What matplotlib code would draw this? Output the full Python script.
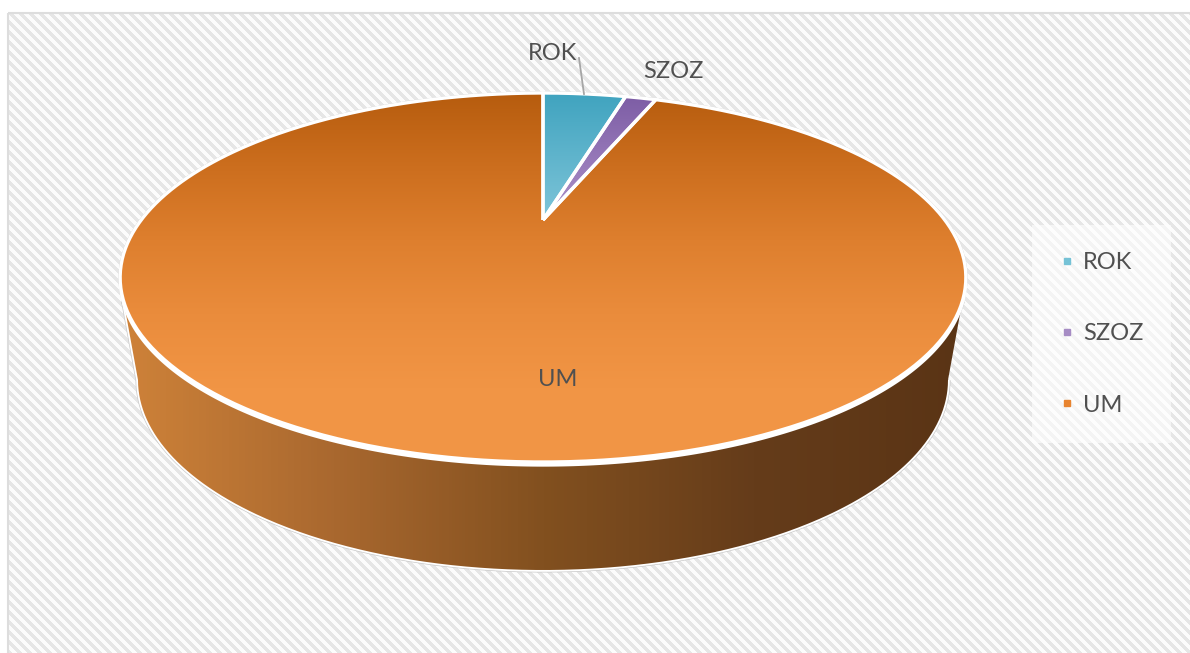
"""3D pie: UM / ROK / SZOZ shares, drawn in pixel coordinates of the reference."""
import numpy as np, matplotlib; matplotlib.use("Agg")
import matplotlib.pyplot as plt
from matplotlib.colors import LinearSegmentedColormap as LSC
from matplotlib.lines import Line2D
from matplotlib.patches import PathPatch, Rectangle
from matplotlib.path import Path

plt.rcParams.update({"font.family": ["Lato", "DejaVu Sans"], "font.size": 17})

categories = ["ROK", "SZOZ", "UM"]
values = [4.3, 1.6, 94.1]
legend_colors = ["#75C2D6", "#A68CC4", "#E8842F"]
top_ramps = [["#3FA3BF", "#7FC5D9"], ["#7D5DA5", "#AE93CB"],
             ["#B65C0E", "#CC6E1E", "#DE7F2E", "#EA8C3C", "#F19545", "#F29646"]]
wall_ramp = ["#CE8239", "#A9682F", "#82501F", "#653C1A", "#5A3415"]
text_color = "#505050"

W, H = 1190, 653
CX, APEX_Y = 543, 220      # image of the pie centre
PERSP, SCALE_X, SCALE_Y = 0.3117, 401.8, 166.6


def project(theta):
    """Angle clockwise from 12 o'clock -> pixel position on the tilted top face."""
    u, v = np.sin(theta), np.cos(theta)
    d = 1 + PERSP * v
    return np.column_stack([CX + SCALE_X * u / d, APEX_Y - SCALE_Y * v / d])


def gradient(ax, cols, clip, box, horizontal=False):
    ramp = np.linspace(0, 1, 256).reshape((1, -1) if horizontal else (-1, 1))
    im = ax.imshow(ramp, cmap=LSC.from_list("r", cols), extent=box, aspect="auto", zorder=clip.get_zorder(),
                   interpolation="bilinear", origin="upper")
    im.set_clip_path(clip)


fig = plt.figure(figsize=(W / 100, H / 100), dpi=100)
ax = fig.add_axes([0, 0, 1, 1])
ax.axis("off")

# striped background
yy, xx = np.mgrid[0:H, 0:W]
stripes = ((xx - yy) % 10 < 5).astype(float)
bg = ax.imshow(stripes, cmap=LSC.from_list("s", ["#E6E6E6", "#FCFCFC"]), extent=(0, W, H, 0), aspect="auto", zorder=0,
               interpolation="bilinear")
ax.add_patch(Rectangle((8, 13), W, H, fc="none", ec="#DDDDDD", lw=1.5, zorder=1))
bg.set_clip_path(Rectangle((8, 13), W, H, transform=ax.transData))

# side wall: front of the top rim joined to the front of the lower rim
t = np.linspace(0, 2 * np.pi, 721)
upper = project(t)
lower = np.column_stack([CX + 405 * np.sin(t), 380 - 190 * np.cos(t)])
front = upper[(upper[:, 1] >= 300) & (t > 0.1) & (t < 6.2)]
low_front = lower[lower[:, 1] >= 380][::-1]
wall_xy = np.vstack([front, low_front])
ax.add_patch(PathPatch(Path(wall_xy), fc="none", ec="#C9C9C9", lw=3.6, zorder=2))
ax.add_patch(PathPatch(Path(wall_xy), fc="none", ec="white", lw=2.6, zorder=2.1))
clip_wall = PathPatch(Path(wall_xy), fc="none", ec="none", zorder=2.2)
ax.add_patch(clip_wall)
gradient(ax, wall_ramp, clip_wall, (122, 966, 575, 90), horizontal=True)

# white rim, heavier at the front
ax.add_patch(PathPatch(Path(upper), fc="white", ec="#C9C9C9", lw=2.4, zorder=3))
ax.add_patch(PathPatch(Path(upper + [0, 3.5]), fc="white", ec="white", lw=1.6, zorder=3.05))

# slices of the top face
edges = np.cumsum([0] + values) / sum(values) * 2 * np.pi
for i, name in enumerate(categories):
    arc = project(np.linspace(edges[i], edges[i + 1], 400))
    xy = np.vstack([[CX, APEX_Y], arc, [CX, APEX_Y]])
    clip = PathPatch(Path(xy), fc="none", ec="none", zorder=4)
    ax.add_patch(clip)
    gradient(ax, top_ramps[i], clip, (110, 975, xy[:, 1].max() if i == 2 else APEX_Y, xy[:, 1].min()))
    ax.add_patch(PathPatch(Path(xy), fc="none", ec="white", lw=2.4, joinstyle="miter", zorder=4.5))
ax.plot(*project(t).T, color="#FFFFFF", lw=0.8, zorder=4.4)

# data labels
ax.plot([579, 584], [58, 94], color="#A6A6A6", lw=1.3, zorder=5)
ax.text(553, 53, categories[0], ha="center", va="center", color=text_color, zorder=6)
ax.text(673, 72, categories[1], ha="center", va="center", color=text_color, zorder=6)
ax.text(558, 380, categories[2], ha="center", va="center", color=text_color, zorder=6)

# legend
handles = [Line2D([], [], ls="", marker="s", ms=4.4, color=c, label=n) for n, c in zip(categories, legend_colors)]
leg = ax.legend(handles=handles, loc="upper left", bbox_to_anchor=(1032, 225), bbox_transform=ax.transData,
                fancybox=False, framealpha=0.6, edgecolor="none", facecolor="white", labelcolor=text_color,
                labelspacing=2.13, handlelength=0.7, handletextpad=0.32, borderpad=1.15, borderaxespad=0, fontsize=17)
leg.set_zorder(6)

ax.set_xlim(0, W)
ax.set_ylim(H, 0)
fig.savefig("out.png", dpi=100)
